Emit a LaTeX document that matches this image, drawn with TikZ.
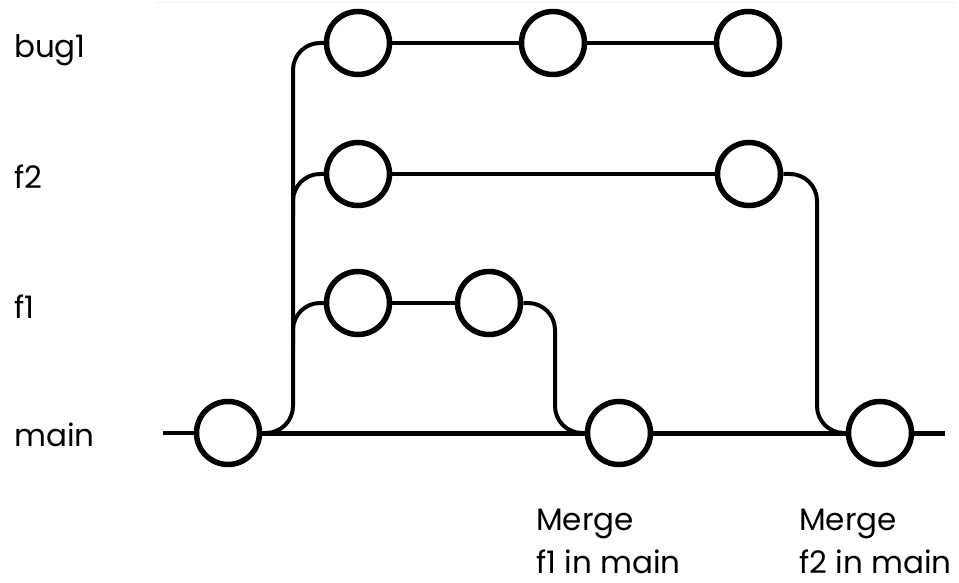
\documentclass[tikz,border=0pt]{standalone}
\usepackage{fontspec}
\setmainfont{Poppins}
\begin{document}
\begin{tikzpicture}[x=1pt,y=-1pt,
  commit/.style={circle,draw=black,line width=5.5pt,fill=white,minimum size=63pt,inner sep=0pt},
  trunk/.style={line width=5pt},
  stub/.style={line width=3.5pt},
  branchline/.style={line width=4pt,rounded corners=27pt},
  lbl/.style={anchor=base west,font=\fontsize{31}{44}\selectfont,inner sep=0pt}]
\useasboundingbox (0,0) rectangle (959,583);
% faint top rule
\coordinate (tl) at (157,3);
\coordinate (tr) at (955,3);
\draw[black!6,line width=1pt] (tl) -- (tr);
% commits
\node[commit] (m1) at (228,433) {};
\node[commit] (m2) at (619,433) {};
\node[commit] (m3) at (880,433) {};
\node[commit] (b1) at (358,43) {};
\node[commit] (b2) at (553,43) {};
\node[commit] (b3) at (748,43) {};
\node[commit] (g1) at (358,174) {};
\node[commit] (g2) at (749,174) {};
\node[commit] (h1) at (358,303) {};
\node[commit] (h2) at (489,303) {};
% helper coordinates
\coordinate (ms) at (163,433);
\coordinate (me) at (945,433);
\coordinate (vb) at (293,433);
\coordinate (vt) at (293,43);
\coordinate (j2s) at (293,215);
\coordinate (j2c) at (293,174);
\coordinate (j1s) at (293,345);
\coordinate (j1c) at (293,303);
\coordinate (k1a) at (555,303);
\coordinate (k1b) at (555,433);
\coordinate (k2a) at (817,174);
\coordinate (k2b) at (817,433);
% main line
\draw[stub] (ms) -- (m1);
\draw[trunk] (m1) -- (m2);
\draw[trunk] (m2) -- (m3);
\draw[trunk] (m3) -- (me);
% branch lines
\draw[branchline] (m1.east) -- (vb) -- (vt) -- (b1.west);
\draw[branchline] (j2s) -- (j2c) -- (g1.west);
\draw[branchline] (j1s) -- (j1c) -- (h1.west);
\draw[line width=4pt] (b1) -- (b2);
\draw[line width=4pt] (b2) -- (b3);
\draw[line width=4pt] (g1) -- (g2);
\draw[line width=4pt] (h1) -- (h2);
% merges
\draw[branchline] (h2.east) -- (k1a) -- (k1b) -- (m2.west);
\draw[branchline] (g2.east) -- (k2a) -- (k2b) -- (m3.west);
% labels
\node[lbl] (lbug) at (14,58) {bug1};
\node[lbl] (lf2) at (14,189) {f2};
\node[lbl] (lf1) at (14,318) {f1};
\node[lbl] (lmain) at (14,446) {main};
\node[lbl] (mg1a) at (536,530) {Merge};
\node[lbl] (mg1b) at (536,573) {f1 in main};
\node[lbl] (mg2a) at (799,530) {Merge};
\node[lbl] (mg2b) at (799,573) {f2 in main};
\end{tikzpicture}
\end{document}
